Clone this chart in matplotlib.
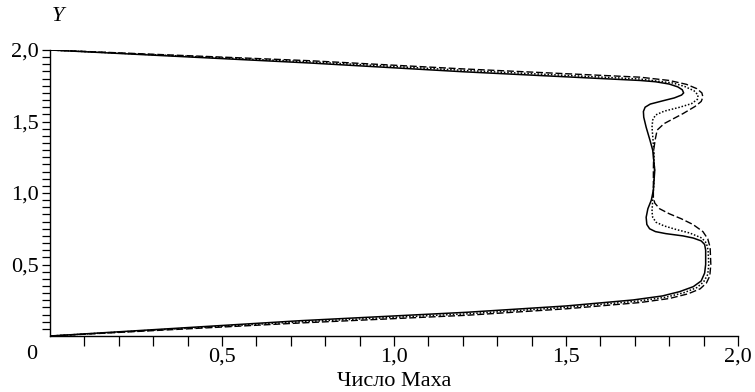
import matplotlib
matplotlib.use("Agg")
import matplotlib.pyplot as plt
import numpy as np

plt.rcParams['font.family'] = ['Liberation Serif', 'DejaVu Serif']

# Mach number profiles across the channel, M(Y), traced bottom wall -> top wall
solid_m = [0, 0.727, 1.212, 1.5, 1.695, 1.78, 1.83, 1.87, 1.893, 1.903, 1.906, 1.906,
           1.903, 1.893, 1.87, 1.84, 1.79, 1.76, 1.743, 1.735, 1.733, 1.738, 1.748,
           1.754, 1.758, 1.752, 1.744, 1.733, 1.726, 1.725, 1.73, 1.745, 1.782,
           1.815, 1.836, 1.842, 1.838, 1.825, 1.80, 1.76, 1.715, 1.2, 0.756, 0]
solid_y = [0, 0.107, 0.166, 0.21, 0.252, 0.28, 0.31, 0.345, 0.385, 0.44, 0.5, 0.6,
           0.64, 0.665, 0.685, 0.70, 0.716, 0.73, 0.75, 0.78, 0.83, 0.89, 0.95,
           1.02, 1.16, 1.30, 1.37, 1.46, 1.53, 1.57, 1.60, 1.622, 1.645,
           1.665, 1.685, 1.70, 1.722, 1.742, 1.762, 1.778, 1.787, 1.848, 1.909, 2.0]

dotted_m = [0, 0.727, 1.212, 1.5, 1.705, 1.79, 1.843, 1.88, 1.90, 1.912, 1.915, 1.913,
            1.908, 1.895, 1.86, 1.82, 1.785, 1.762, 1.752, 1.75, 1.752, 1.755, 1.757,
            1.755, 1.753, 1.75, 1.752, 1.76, 1.785, 1.831, 1.865, 1.882, 1.884,
            1.872, 1.845, 1.811, 1.715, 1.2, 0.756, 0]
dotted_y = [0, 0.099, 0.155, 0.20, 0.243, 0.271, 0.303, 0.338, 0.378, 0.43, 0.5, 0.6,
            0.65, 0.685, 0.72, 0.745, 0.77, 0.795, 0.83, 0.87, 0.95, 1.05, 1.16,
            1.30, 1.37, 1.46, 1.51, 1.545, 1.572, 1.60, 1.625, 1.655, 1.685,
            1.715, 1.745, 1.769, 1.797, 1.858, 1.917, 2.0]

dashed_m = [0, 0.727, 1.212, 1.5, 1.715, 1.80, 1.855, 1.89, 1.908, 1.918, 1.921, 1.919,
            1.912, 1.898, 1.869, 1.835, 1.80, 1.772, 1.758, 1.754, 1.754, 1.754, 1.755,
            1.759, 1.765, 1.785, 1.84, 1.875, 1.893, 1.898, 1.895, 1.88, 1.85, 1.80,
            1.715, 1.2, 0.756, 0]
dashed_y = [0, 0.091, 0.145, 0.19, 0.234, 0.262, 0.295, 0.33, 0.37, 0.42, 0.5, 0.62,
            0.68, 0.73, 0.78, 0.82, 0.855, 0.89, 0.93, 0.97, 1.05, 1.16, 1.30,
            1.37, 1.44, 1.485, 1.555, 1.605, 1.64, 1.671, 1.70, 1.73, 1.76, 1.787,
            1.81, 1.868, 1.925, 2.0]

x_ticks = [0.5, 1.0, 1.5, 2.0]
x_labels = ["0,5", "1,0", "1,5", "2,0"]
y_ticks = [0.5, 1.0, 1.5, 2.0]
y_labels = ["0,5", "1,0", "1,5", "2,0"]

fig = plt.figure(figsize=(7.55, 3.92), dpi=100)
ax = fig.add_axes([50/755, 56/392, 688/755, 286/392])

ax.plot(solid_m, solid_y, color='black', lw=1.1, ls='-')
ax.plot(dotted_m, dotted_y, color='black', lw=1.1, ls=(0, (1, 1.2)))
ax.plot(dashed_m, dashed_y, color='black', lw=1.0, ls=(0, (5, 2)))

ax.set_xlim(0, 2.0)
ax.set_ylim(0, 2.0)

for s in ['top', 'right']:
    ax.spines[s].set_visible(False)
for s in ['left', 'bottom']:
    ax.spines[s].set_linewidth(1.0)

ax.set_xticks(x_ticks)
ax.set_xticklabels(x_labels)
ax.set_xticks(np.arange(1, 21) * 0.1, minor=True)
ax.set_yticks(y_ticks)
ax.set_yticklabels(y_labels)
ax.set_yticks(np.arange(1, 41) * 0.05, minor=True)

ax.tick_params(axis='x', which='both', direction='out', length=7, width=0.9,
               labelsize=16, pad=1)
ax.tick_params(axis='y', which='both', direction='out', length=6, width=0.9,
               labelsize=16, pad=2)

# origin label sits below the corner, left of the axis
ax.annotate("0", xy=(0, 0), xycoords='data', xytext=(-18, -9),
            textcoords='offset pixels', ha='center', va='top', fontsize=16)

ax.set_xlabel("Число Маха", fontsize=16, labelpad=4)
ax.text(0.002, 1.085, "Y", transform=ax.transAxes, fontsize=16, style='italic',
        ha='left', va='bottom')

fig.savefig("out.png", dpi=100)
